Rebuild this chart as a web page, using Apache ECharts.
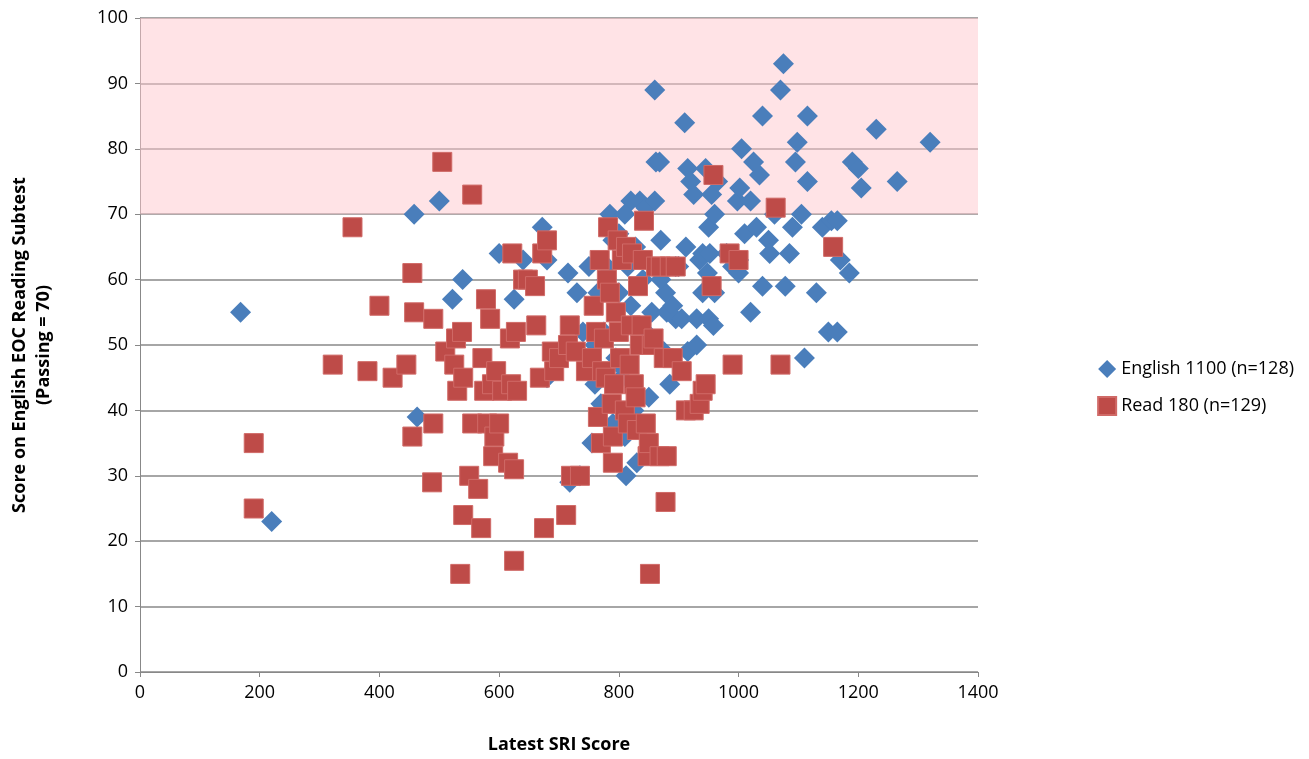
<!DOCTYPE html><html><head><meta charset="utf-8"><script src="https://cdn.jsdelivr.net/npm/echarts@6/dist/echarts.min.js"></script>
<style>body{margin:0}#c{width:1309px;height:759px}</style></head><body><div id="c"></div><script>
const english=[[168,55],[220,23],[458,70],[500,72],[463,39],[539,60],[522,57],[600,64],[625,57],[640,63],[672,68],[680,63],[700,49],[715,61],[718,29],[730,58],[735,30],[750,62],[755,35],[760,44],[765,58],[770,41],[775,52],[780,60],[785,70],[790,66],[795,48],[800,58],[800,67],[805,45],[810,36],[812,30],[815,62],[820,56],[820,72],[828,65],[830,32],[835,72],[840,60],[845,71],[850,42],[855,55],[860,89],[862,78],[868,78],[870,66],[875,49],[878,58],[880,55],[885,44],[890,56],[895,54],[900,62],[905,54],[910,84],[912,65],[915,77],[915,49],[920,75],[925,73],[930,54],[935,63],[940,64],[945,77],[948,61],[950,68],[950,54],[952,64],[955,73],[958,53],[960,58],[965,75],[980,64],[990,62],[998,72],[1000,61],[1002,74],[1005,80],[1010,67],[1020,55],[1025,78],[1030,68],[1035,76],[1040,85],[1040,59],[1050,66],[1052,64],[1060,70],[1070,89],[1075,93],[1078,59],[1085,64],[1095,78],[1098,81],[1105,70],[1110,48],[1115,85],[1115,75],[1130,58],[1140,68],[1150,52],[1155,69],[1165,52],[1165,69],[1170,63],[1185,61],[1190,78],[1200,77],[1205,74],[1230,83],[1265,75],[1320,81],[760,50],[790,38],[800,47],[825,40],[845,52],[870,60],[895,62],[930,50],[780,62],[1000,63],[1020,72],[1090,68],[680,45],[740,52],[810,70],[860,72],[940,58],[960,70]];
const read180=[[190,35],[190,25],[322,47],[355,68],[380,46],[400,56],[422,45],[445,47],[455,36],[455,61],[458,55],[488,29],[490,38],[490,54],[505,78],[510,49],[525,47],[528,51],[530,43],[535,15],[538,52],[540,24],[540,45],[550,30],[555,38],[555,73],[565,28],[570,22],[572,48],[575,43],[578,57],[580,38],[585,54],[588,44],[590,33],[592,36],[595,46],[600,38],[605,43],[615,32],[618,51],[620,44],[622,64],[625,31],[625,17],[628,52],[630,43],[640,60],[648,60],[660,59],[662,53],[668,45],[672,64],[675,22],[680,66],[688,49],[692,46],[700,48],[712,24],[715,50],[718,53],[720,30],[728,49],[735,30],[745,46],[755,48],[758,56],[762,52],[765,39],[768,63],[770,35],[772,46],[775,51],[778,45],[780,60],[782,68],[785,58],[788,41],[790,36],[790,32],[792,44],[795,55],[798,66],[800,52],[802,48],[805,63],[810,40],[812,65],[815,38],[818,47],[820,53],[822,64],[825,44],[828,42],[830,37],[832,59],[835,50],[838,53],[840,63],[842,69],[845,38],[848,33],[850,35],[852,15],[855,50],[858,51],[862,62],[868,33],[870,62],[875,48],[878,26],[880,33],[885,62],[890,48],[895,62],[905,46],[912,40],[925,40],[935,41],[940,43],[945,44],[955,59],[958,76],[985,64],[990,47],[1000,63],[1062,71],[1070,47],[1158,65]];
const F='Open Sans, Calibri, Liberation Sans, sans-serif';
const ch=echarts.init(document.getElementById('c'));
ch.setOption({animation:false,textStyle:{fontFamily:F},
grid:{left:137,right:331,top:18,bottom:86},
legend:{orient:'vertical',right:10,top:355,itemGap:18,textStyle:{fontSize:18,color:'#000',fontFamily:F},itemWidth:18,itemHeight:18,
 data:[{name:'English 1100 (n=128)',icon:'diamond'},{name:'Read 180 (n=129)',icon:'rect'}]},
xAxis:{type:'value',min:0,max:1400,interval:200,name:'Latest SRI Score',nameLocation:'middle',nameGap:64,
 nameTextStyle:{fontSize:18,fontWeight:'bold',color:'#000'},axisLabel:{fontSize:18,color:'#000',formatter:v=>String(v),margin:12},
 axisLine:{lineStyle:{color:'#888'}},axisTick:{show:true,lineStyle:{color:'#888'}},splitLine:{show:false}},
yAxis:{type:'value',min:0,max:100,interval:10,name:'Score on English EOC Reading Subtest\n(Passing = 70)',nameLocation:'middle',nameGap:84,
 nameTextStyle:{fontSize:18,fontWeight:'bold',color:'#000',lineHeight:24},axisLabel:{fontSize:18,color:'#000',margin:12},
 axisLine:{show:true,lineStyle:{color:'#888'}},axisTick:{show:true,lineStyle:{color:'#888'}},splitLine:{lineStyle:{color:'#888',width:1.5}}},
series:[
{name:'English 1100 (n=128)',type:'scatter',symbol:'diamond',symbolSize:21,itemStyle:{color:'#4a7ebb',opacity:1},data:english,
 markArea:{silent:true,itemStyle:{color:'rgba(255,200,205,0.5)'},data:[[{yAxis:70},{yAxis:100}]]},z:2},
{name:'Read 180 (n=129)',type:'scatter',symbol:'rect',symbolSize:19,itemStyle:{color:'#be4b48',opacity:1,borderColor:'#d06a67',borderWidth:1},data:read180,z:3}
]});
</script></body></html>
